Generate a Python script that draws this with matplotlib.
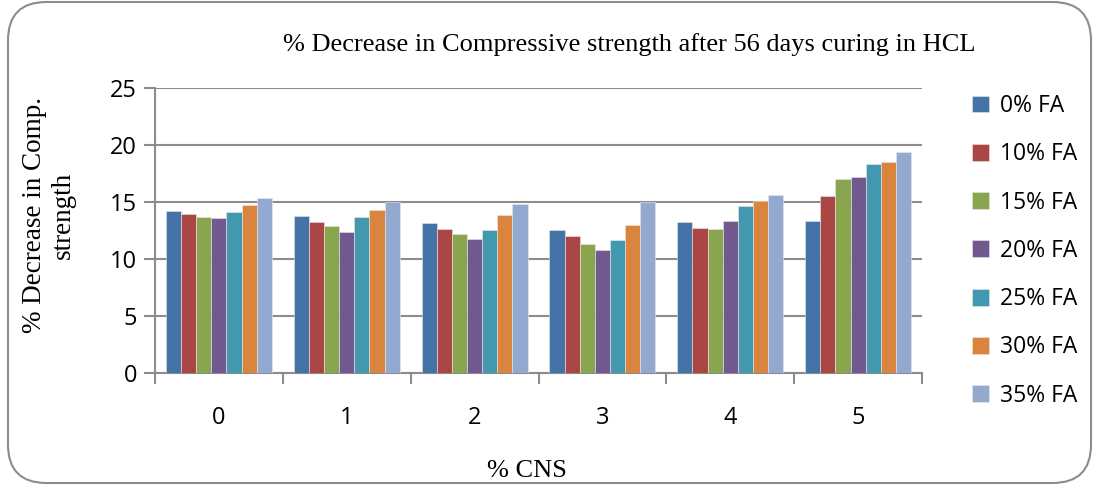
import matplotlib.pyplot as plt
import numpy as np
from matplotlib.patches import FancyBboxPatch

cns = ["0", "1", "2", "3", "4", "5"]
series = ["0% FA", "10% FA", "15% FA", "20% FA", "25% FA", "30% FA", "35% FA"]
fa0 = [14.23, 13.76, 13.12, 12.53, 13.23, 13.29]
fa10 = [13.91, 13.23, 12.65, 11.97, 12.71, 15.49]
fa15 = [13.67, 12.88, 12.21, 11.27, 12.65, 16.96]
fa20 = [13.56, 12.35, 11.71, 10.74, 13.32, 17.19]
fa25 = [14.06, 13.70, 12.50, 11.62, 14.61, 18.31]
fa30 = [14.76, 14.29, 13.85, 12.94, 15.05, 18.49]
fa35 = [15.29, 14.94, 14.82, 14.94, 15.58, 19.37]
values = [fa0, fa10, fa15, fa20, fa25, fa30, fa35]
colors = ["#4572A7", "#AA4643", "#89A54E", "#71588F", "#4198AF", "#DB843D", "#93A9CF"]

fig = plt.figure(figsize=(10.99, 4.88), dpi=100)
ax = fig.add_axes([155/1099, 1-372.5/488, (922-155)/1099, (372.5-88)/488])

# rounded border around the whole chart
border = FancyBboxPatch((8/1099, 5/488), (1091-8)/1099, (486-5)/488,
                        boxstyle="round,pad=0,rounding_size=0.035",
                        transform=fig.transFigure, facecolor="none",
                        edgecolor="#8c8c8c", linewidth=1.5, mutation_aspect=1099/488)
fig.patches.append(border)

x = np.arange(len(cns))
group = 0.83
w = group / len(series)
for i, (name, vals) in enumerate(zip(series, values)):
    ax.bar(x - group/2 + w*(i+0.5), vals, w, color=colors[i], label=name,
           edgecolor="#e8e8e8", linewidth=0.4, zorder=3)

ax.set_xlim(-0.5, len(cns)-0.5)
ax.set_ylim(0, 25)
ax.set_yticks(range(0, 26, 5))
ax.yaxis.grid(True, color="#8c8c8c", linewidth=1.5)
ax.set_axisbelow(True)
for s in ["top", "right"]:
    ax.spines[s].set_visible(False)
for s in ["left", "bottom"]:
    ax.spines[s].set_color("#8c8c8c")
    ax.spines[s].set_linewidth(1.5)

ax.set_xticks(x)
ax.set_xticklabels(cns)
ax.set_xticks(np.arange(-0.5, len(cns)), minor=True)
ax.tick_params(axis="x", which="major", length=0, pad=24, labelsize=17)
ax.tick_params(axis="x", which="minor", length=8, width=1.5, color="#8c8c8c")
ax.tick_params(axis="y", length=8, width=1.5, color="#8c8c8c", labelsize=17, pad=5)
for lab in ax.get_xticklabels() + ax.get_yticklabels():
    lab.set_family("Open Sans")

fig.text(629/1099, 1-45/488, "% Decrease in Compressive strength after 56 days curing in HCL",
         ha="center", va="center", family="Liberation Serif", fontsize=19)
fig.text(527/1099, 1-471/488, "% CNS", ha="center", va="center",
         family="Liberation Serif", fontsize=19)
fig.text(49/1099, 1-215/488, "% Decrease in Comp.\nstrength", ha="center", va="center",
         rotation=90, family="Liberation Serif", fontsize=19.5, linespacing=1.2)

leg = ax.legend(loc="upper left", bbox_to_anchor=(972/1099, 1-94/488),
                bbox_transform=fig.transFigure, frameon=False,
                prop={"family": "Open Sans", "size": 16.5}, handlelength=0.75,
                handleheight=0.75, handletextpad=0.45, labelspacing=1.06,
                borderpad=0, borderaxespad=0)

fig.savefig("out.png", dpi=100)
